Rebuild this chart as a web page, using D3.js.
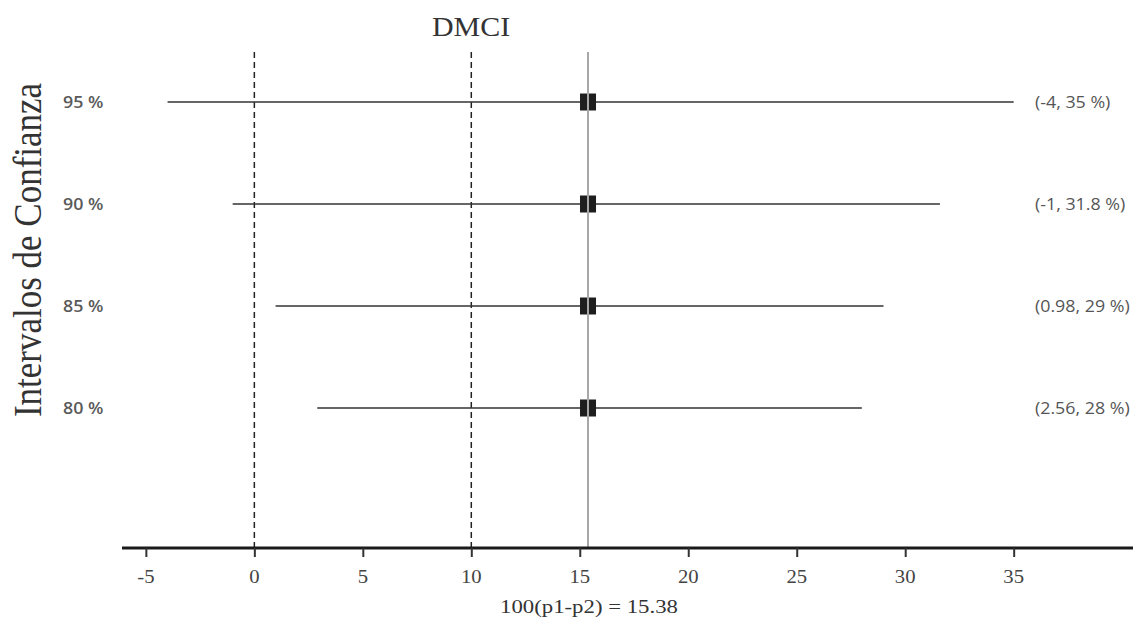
<!DOCTYPE html>
<html>
<head>
<meta charset="utf-8">
<script src="https://cdn.jsdelivr.net/npm/d3@7"></script>
<style>
  body { margin: 0; background: #fff; }
  svg { display: block; }
</style>
</head>
<body>
<div id="chart"></div>
<script>
// data
var levels = ["95 %", "90 %", "85 %", "80 %"];
var lowers = [-4, -1, 0.98, 2.9];
var uppers = [35, 31.6, 29, 28];
var intervalLabels = ["(-4, 35 %)", "(-1, 31.8 %)", "(0.98, 29 %)", "(2.56, 28 %)"];
var estimate = 15.38;
var refLines = [0, 10];
var xTicks = [-5, 0, 5, 10, 15, 20, 25, 30, 35];

var width = 1146, height = 624;
var serif = "'Liberation Serif', 'Times New Roman', serif";
var sans = "'Open Sans', 'Noto Sans', sans-serif";

var svg = d3.select("#chart").append("svg")
    .attr("width", width).attr("height", height);

var x = d3.scaleLinear().domain([-6.1, 40.5]).range([122, 1133]);
var y = d3.scalePoint().domain(levels).range([102, 408]);
var plotTop = 52, axisY = 548;

// stretched text helper (reference text is a bit wide)
function label(g, px, py, txt, opts) {
    return g.append("text")
        .attr("transform", "translate(" + px + "," + py + ") scale(" + (opts.sx || 1) + ",1)")
        .attr("text-anchor", opts.anchor || "start")
        .attr("font-family", opts.family)
        .attr("font-size", opts.size)
        .attr("font-weight", opts.weight || "normal")
        .attr("fill", opts.fill || "#333")
        .text(txt);
}

// reference dashed lines
svg.selectAll(".ref").data(refLines).enter().append("line")
    .attr("class", "ref")
    .attr("x1", function(d) { return x(d); }).attr("x2", function(d) { return x(d); })
    .attr("y1", plotTop).attr("y2", axisY)
    .attr("stroke", "#222").attr("stroke-width", 1.5)
    .attr("stroke-dasharray", "6,4");

// interval lines
var rows = levels.map(function(l, i) { return { level: l, lo: lowers[i], hi: uppers[i], txt: intervalLabels[i] }; });

svg.selectAll(".ci").data(rows).enter().append("line")
    .attr("class", "ci")
    .attr("x1", function(d) { return x(d.lo); })
    .attr("x2", function(d) { return x(d.hi); })
    .attr("y1", function(d) { return y(d.level); })
    .attr("y2", function(d) { return y(d.level); })
    .attr("stroke", "#333").attr("stroke-width", 1.6);

// point estimate squares
svg.selectAll(".pt").data(rows).enter().append("rect")
    .attr("class", "pt")
    .attr("x", x(estimate) - 8)
    .attr("y", function(d) { return y(d.level) - 8.5; })
    .attr("width", 16).attr("height", 17)
    .attr("fill", "#1e1e1e");

// grey estimate line
svg.append("line")
    .attr("x1", x(estimate)).attr("x2", x(estimate))
    .attr("y1", plotTop).attr("y2", axisY)
    .attr("stroke", "#a8a8a8").attr("stroke-width", 2);

// row labels
rows.forEach(function(d) {
    label(svg, 63, y(d.level) + 5.5, d.level, { family: sans, size: 15.5, sx: 1.15, fill: "#5a5a5a", weight: 600 });
    label(svg, 1035, y(d.level) + 5.5, d.txt, { family: sans, size: 15.5, sx: 1.15, fill: "#555" });
});

// x axis
var xAxis = d3.axisBottom(x).tickValues(xTicks).tickSize(9).tickFormat("");
var gx = svg.append("g").attr("transform", "translate(0," + axisY + ")").call(xAxis);
gx.select(".domain").attr("d", "M" + x.range()[0] + ",0H" + x.range()[1])
    .attr("stroke", "#1a1a1a").attr("stroke-width", 3.2);
gx.selectAll(".tick line").attr("stroke", "#333").attr("stroke-width", 2);
xTicks.forEach(function(t) {
    label(svg, x(t), 583, String(t), { family: serif, size: 18, sx: 1.15, anchor: "middle", fill: "#444" });
});

// titles
label(svg, 471, 36, "DMCI", { family: serif, size: 28, sx: 1.07, anchor: "middle", fill: "#333" });
label(svg, 589, 613, "100(p1-p2) = " + estimate, { family: serif, size: 19, sx: 1.2, anchor: "middle", fill: "#333" });

svg.append("text")
    .attr("transform", "translate(41,250) rotate(-90) scale(1,1.15)")
    .attr("text-anchor", "middle")
    .attr("font-family", serif)
    .attr("font-size", 35)
    .attr("fill", "#333")
    .text("Intervalos de Confianza");
</script>
</body>
</html>
